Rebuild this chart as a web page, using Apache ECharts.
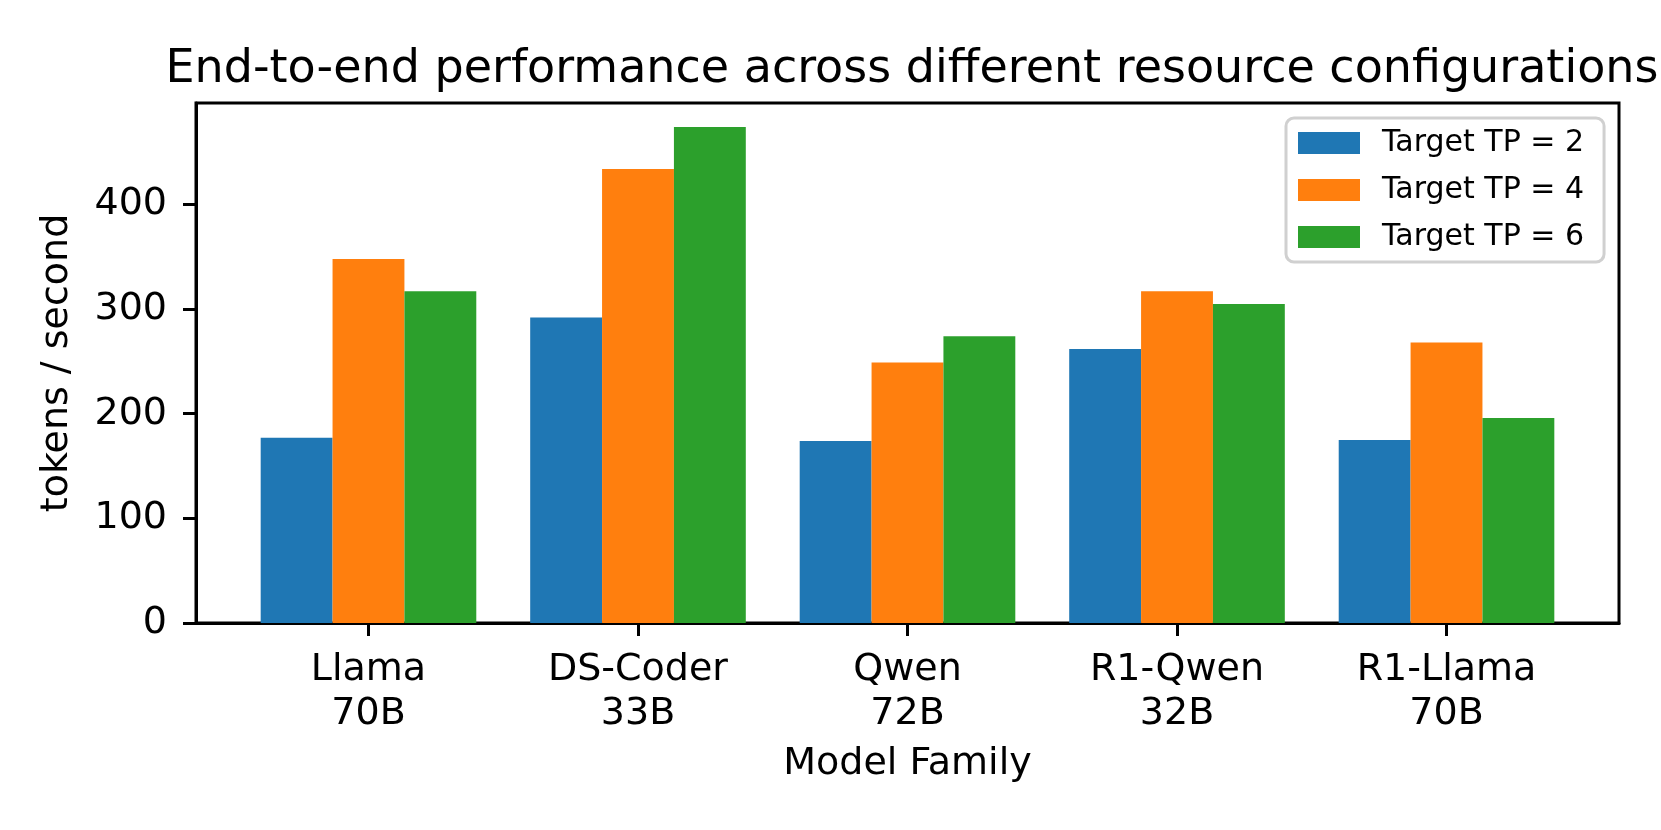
<!DOCTYPE html>
<html>
<head>
<meta charset="utf-8">
<script src="https://cdn.jsdelivr.net/npm/echarts@6/dist/echarts.min.js"></script>
<style>
html,body{margin:0;padding:0;background:#fff;}
#chart{width:1661px;height:830px;}
</style>
</head>
<body>
<div id="chart"></div>
<script>
const categories = ['Llama\n70B', 'DS-Coder\n33B', 'Qwen\n72B', 'R1-Qwen\n32B', 'R1-Llama\n70B'];
const seriesNames = ['Target TP = 2', 'Target TP = 4', 'Target TP = 6'];
const tp2 = [177, 292, 174, 262, 175];
const tp4 = [348, 434, 249, 317, 268];
const tp6 = [317, 474, 274, 305, 196];
const yTicks = [0, 100, 200, 300, 400];
const colors = ['#1f77b4', '#ff7f0e', '#2ca02c'];

const seriesValues = [tp2, tp4, tp6];
const groupWidth = 0.8;
const barW = groupWidth / seriesValues.length;
const catIdx = categories.map((c, i) => i);
const FONT = 'DejaVu Sans';

const chart = echarts.init(document.getElementById('chart'));

const series = seriesValues.map((vals, s) => ({
  name: seriesNames[s],
  type: 'custom',
  itemStyle: { color: colors[s] },
  data: vals.map((v, i) => [i + (s - 1) * barW, v]),
  renderItem: function (params, api) {
    const x = api.value(0), y = api.value(1);
    const p0 = api.coord([x - barW / 2, y]);
    const p1 = api.coord([x + barW / 2, 0]);
    return {
      type: 'rect',
      shape: { x: p0[0], y: p0[1], width: p1[0] - p0[0], height: p1[1] - p0[1] },
      style: { fill: api.visual('color') }
    };
  }
}));

const option = {
  animation: false,
  backgroundColor: '#ffffff',
  title: {
    text: 'End-to-end performance across different resource configurations',
    left: 907,
    textAlign: 'center',
    top: 42,
    textStyle: { fontFamily: FONT, fontSize: 46, fontWeight: 'normal', color: '#000' }
  },
  legend: {
    data: seriesNames.map(n => ({ name: n, icon: 'rect' })),
    orient: 'vertical',
    left: 1286,
    top: 118,
    itemWidth: 62,
    itemHeight: 22,
    itemGap: 17,
    itemTextGap: 23,
    padding: [10, 20, 10, 12],
    backgroundColor: '#ffffff',
    borderColor: '#d0d0d0',
    borderWidth: 3,
    borderRadius: 8,
    textStyle: { fontFamily: FONT, fontSize: 30, color: '#000', lineHeight: 30, padding: [0, 0, 0, 17] }
  },
  grid: {
    left: 196, right: 42, top: 103, bottom: 207,
    show: true, borderColor: '#000', borderWidth: 3, backgroundColor: 'transparent'
  },
  xAxis: {
    type: 'value',
    min: -0.64,
    max: 4.64,
    name: 'Model Family',
    nameLocation: 'middle',
    nameGap: 122,
    nameTextStyle: { fontFamily: FONT, fontSize: 38, color: '#000' },
    splitLine: { show: false },
    axisLine: { show: true, onZero: false, lineStyle: { color: '#000', width: 3 } },
    axisTick: { show: true, length: 13, lineStyle: { color: '#000', width: 3 }, customValues: catIdx },
    axisLabel: {
      customValues: catIdx,
      margin: 25,
      fontFamily: FONT, fontSize: 38, color: '#000', lineHeight: 44,
      formatter: function (v) { return categories[Math.round(v)]; }
    }
  },
  yAxis: {
    type: 'value',
    min: 0,
    max: 497,
    name: 'tokens / second',
    nameLocation: 'middle',
    nameGap: 120,
    nameTextStyle: { fontFamily: FONT, fontSize: 38, color: '#000' },
    splitLine: { show: false },
    axisLine: { show: true, onZero: false, lineStyle: { color: '#000', width: 3 } },
    axisTick: { show: true, length: 13, lineStyle: { color: '#000', width: 3 }, customValues: yTicks },
    axisLabel: {
      customValues: yTicks,
      margin: 29,
      fontFamily: FONT, fontSize: 38, color: '#000'
    }
  },
  series: series
};
chart.setOption(option);
</script>
</body>
</html>
